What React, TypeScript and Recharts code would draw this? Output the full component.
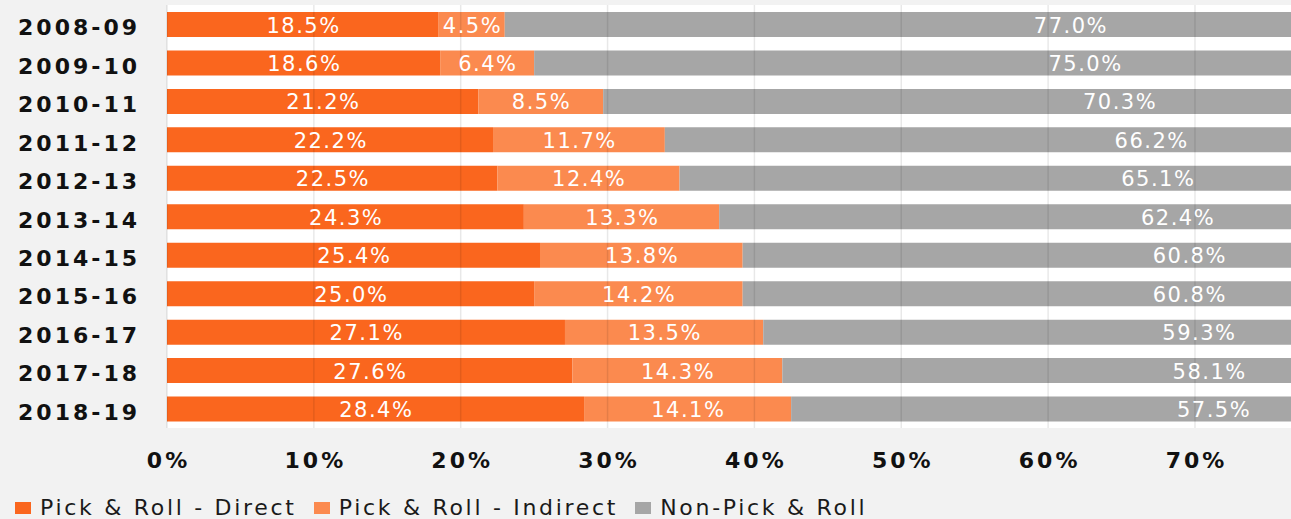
import React from 'react';
import { BarChart, Bar, XAxis, YAxis, CartesianGrid, ReferenceLine, LabelList, Legend } from 'recharts';

const seasons = ['2008-09', '2009-10', '2010-11', '2011-12', '2012-13', '2013-14', '2014-15', '2015-16', '2016-17', '2017-18', '2018-19'];
const pnrDirect = [18.5, 18.6, 21.2, 22.2, 22.5, 24.3, 25.4, 25.0, 27.1, 27.6, 28.4];
const pnrIndirect = [4.5, 6.4, 8.5, 11.7, 12.4, 13.3, 13.8, 14.2, 13.5, 14.3, 14.1];
const nonPnr = [77.0, 75.0, 70.3, 66.2, 65.1, 62.4, 60.8, 60.8, 59.3, 58.1, 57.5];
const xTicks = [0, 10, 20, 30, 40, 50, 60, 70];

const seriesNames = ['Pick & Roll - Direct', 'Pick & Roll - Indirect', 'Non-Pick & Roll'];
const seriesKeys = ['direct', 'indirect', 'non'];
const seriesColors = ['#FA661E', '#FB8A4F', '#A6A6A6'];

const data = seasons.map((s, i) => ({
  season: s,
  direct: pnrDirect[i],
  indirect: pnrIndirect[i],
  non: nonPnr[i],
}));

const FONT = '"DejaVu Sans", sans-serif';

const YTick = (props: any) => {
  const { x, y, payload } = props;
  return (
    <text x={x} y={y} dy={11} textAnchor="end" fontFamily={FONT} fontWeight={700} fontSize={22} letterSpacing={3} fill="#111">
      {payload.value}
    </text>
  );
};

const XTick = (props: any) => {
  const { x, y, payload } = props;
  return (
    <text x={x} y={y} dy={40} dx={1.5} textAnchor="middle" fontFamily={FONT} fontWeight={700} fontSize={22} letterSpacing={3} fill="#111">
      {payload.value}%
    </text>
  );
};

const BarLabel = (props: any) => {
  const { x, y, width, height, value } = props;
  return (
    <text x={x + width / 2 + 0.75} y={y + height / 2 + 8} textAnchor="middle" fontFamily={FONT} fontSize={21} letterSpacing={1.5} fill="#fff">
      {Number(value).toFixed(1)}%
    </text>
  );
};

const renderLegend = () => (
  <div
    style={{
      boxSizing: 'border-box',
      height: 38,
      paddingTop: 16,
      paddingLeft: 15,
      display: 'flex',
      alignItems: 'center',
      fontFamily: FONT,
      fontSize: 22,
      lineHeight: '22px',
      letterSpacing: 2.7,
      color: '#1a1a1a',
      whiteSpace: 'nowrap',
    }}
  >
    {seriesNames.map((n, i) => (
      <div key={n} style={{ display: 'flex', alignItems: 'center', marginRight: 17 }}>
        <span style={{ display: 'inline-block', width: 16, height: 12, background: seriesColors[i], marginRight: 9 }} />
        <span>{n}</span>
      </div>
    ))}
  </div>
);

export default function App() {
  return (
    <div style={{ position: 'absolute', left: 0, top: 0, width: 1291, height: 519, overflow: 'hidden', background: '#F2F2F2' }}>
      <BarChart
        width={1647}
        height={519}
        data={data}
        layout="vertical"
        margin={{ top: 5, right: 10, bottom: 0, left: 0 }}
        barSize={25}
      >
        <CartesianGrid horizontal={false} vertical={false} fill="#FFFFFF" />
        <XAxis
          type="number"
          domain={[0, 100]}
          ticks={xTicks}
          axisLine={false}
          tickLine={false}
          tickSize={0}
          tickMargin={0}
          height={53}
          tick={<XTick />}
          interval={0}
        />
        <YAxis
          type="category"
          dataKey="season"
          width={167}
          axisLine={false}
          tickLine={false}
          tickSize={0}
          tickMargin={27}
          tick={<YTick />}
          interval={0}
        />
        {seriesKeys.map((k, i) => (
          <Bar key={k} dataKey={k} name={seriesNames[i]} stackId="a" fill={seriesColors[i]} isAnimationActive={false}>
            <LabelList dataKey={k} content={<BarLabel />} />
          </Bar>
        ))}
        {xTicks.map((t) => (
          <ReferenceLine key={t} x={t} stroke="rgba(0,0,0,0.09)" strokeWidth={1.5} />
        ))}
        <Legend verticalAlign="bottom" align="left" content={renderLegend} wrapperStyle={{ left: 0, bottom: 0 }} />
      </BarChart>
    </div>
  );
}
